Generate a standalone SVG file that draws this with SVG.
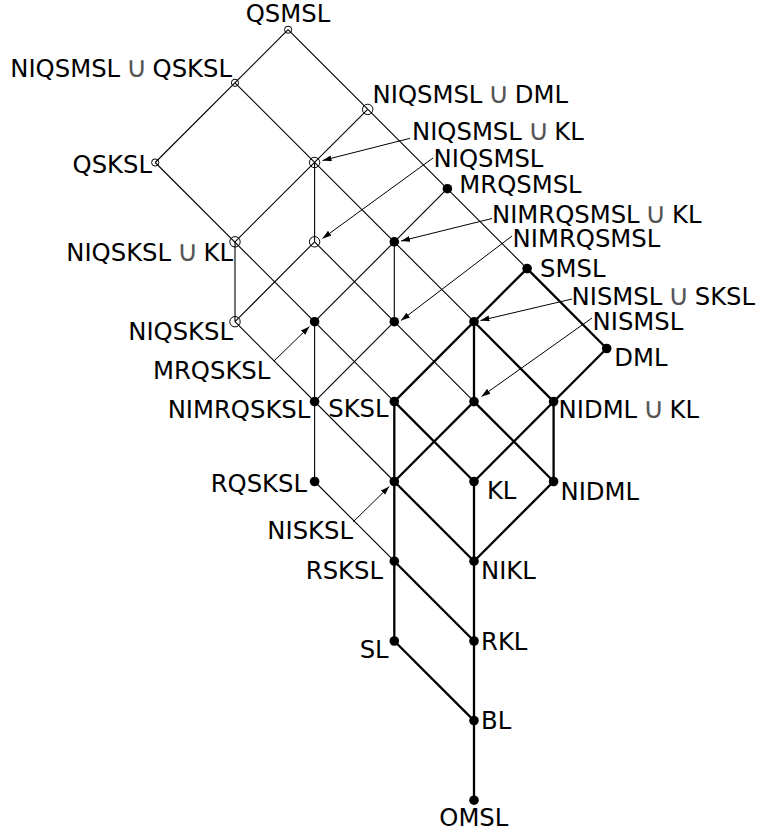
<svg xmlns="http://www.w3.org/2000/svg" width="757" height="837" viewBox="0 0 757 837">
<style>
text{font-family:"DejaVu Sans","Liberation Sans",sans-serif;font-size:24.3px;fill:#000}
.cup{fill:#555;font-size:29px;font-weight:200}
.e{stroke:#000;stroke-width:1.1;fill:none}
.t{stroke:#000;stroke-width:2.3;fill:none}
.a{stroke:#000;stroke-width:1;fill:none;marker-end:url(#ah)}
.o{fill:none;stroke:#000;stroke-width:1}
.f{fill:#000}
.end{text-anchor:end}
.mid{text-anchor:middle}
</style>
<defs>
<marker id="ah" markerUnits="userSpaceOnUse" markerWidth="10" markerHeight="7" refX="9" refY="3" orient="auto">
<path d="M0,0 L9,3 L0,6 z" fill="#000"/>
</marker>
</defs>
<rect width="757" height="837" fill="#fff"/>
<g id="connectors">
<line class="e" x1="288.1" y1="29.7" x2="527.1" y2="268.6"/>
<line class="e" x1="235" y1="82.8" x2="474" y2="321.7"/>
<line class="e" x1="155.2" y1="162.5" x2="394.3" y2="401.6"/>
<line class="e" x1="314.6" y1="241.8" x2="474" y2="401.6"/>
<line class="e" x1="235" y1="321.7" x2="394.3" y2="481.5"/>
<line class="e" x1="314.6" y1="481.5" x2="394.3" y2="561.2"/>
<line class="e" x1="288.1" y1="29.7" x2="155.2" y2="162.5"/>
<line class="e" x1="367.7" y1="109.4" x2="235" y2="241.8"/>
<line class="e" x1="447.4" y1="188.7" x2="314.6" y2="321.7"/>
<line class="e" x1="314.6" y1="241.8" x2="235" y2="321.7"/>
<line class="e" x1="394.3" y1="321.7" x2="314.6" y2="401.6"/>
<line class="e" x1="314.6" y1="162.5" x2="314.6" y2="241.8"/>
<line class="e" x1="394.3" y1="241.8" x2="394.3" y2="321.7"/>
<line class="e" x1="235" y1="241.8" x2="235" y2="321.7"/>
<line class="e" x1="314.6" y1="321.7" x2="314.6" y2="481.5"/>
<line class="t" x1="527.1" y1="268.6" x2="606.7" y2="348.5"/>
<line class="t" x1="474" y1="321.7" x2="553.6" y2="401.6"/>
<line class="t" x1="394.3" y1="401.6" x2="474" y2="481.5"/>
<line class="t" x1="474" y1="401.6" x2="553.6" y2="481.5"/>
<line class="t" x1="394.3" y1="481.5" x2="474" y2="561.2"/>
<line class="t" x1="394.3" y1="561.2" x2="474" y2="641"/>
<line class="t" x1="394.3" y1="641" x2="474" y2="720.6"/>
<line class="t" x1="527.1" y1="268.6" x2="394.3" y2="401.6"/>
<line class="t" x1="606.7" y1="348.5" x2="474" y2="481.5"/>
<line class="t" x1="474" y1="401.6" x2="394.3" y2="481.5"/>
<line class="t" x1="553.6" y1="481.5" x2="474" y2="561.2"/>
<line class="t" x1="474" y1="321.7" x2="474" y2="401.6"/>
<line class="t" x1="553.6" y1="401.6" x2="553.6" y2="481.5"/>
<line class="t" x1="394.3" y1="401.6" x2="394.3" y2="641"/>
<line class="t" x1="474" y1="481.5" x2="474" y2="800.2"/>
<line class="a" x1="410" y1="138.3" x2="322.5" y2="160.5"/>
<line class="a" x1="433" y1="158" x2="322.5" y2="238.5"/>
<line class="a" x1="492" y1="218.5" x2="401" y2="241"/>
<line class="a" x1="512" y1="236" x2="401" y2="320.5"/>
<line class="a" x1="572" y1="299" x2="480.5" y2="320.5"/>
<line class="a" x1="592" y1="318" x2="481.5" y2="396.5"/>
<line class="a" x1="274" y1="361" x2="309.5" y2="326.5"/>
<line class="a" x1="353.3" y1="521.7" x2="389.3" y2="486.5"/>
</g>
<g id="n-QSMSL"><circle class="o" cx="288.1" cy="29.7" r="3.6"/><text class="mid" x="288" y="22">QSMSL</text></g>
<g id="n-NIQSMSL-QSKSL"><circle class="o" cx="235" cy="82.8" r="3.6"/><text class="end" x="232" y="77.3">NIQSMSL <tspan class="cup" dx="-2">∪</tspan><tspan dx="-2"> QSKSL</tspan></text></g>
<g id="n-QSKSL"><circle class="o" cx="155.2" cy="162.5" r="3.6"/><text class="end" x="152" y="172.7">QSKSL</text></g>
<g id="n-NIQSMSL-DML"><circle class="o" cx="367.7" cy="109.4" r="5.2"/><text x="372.6" y="103.3">NIQSMSL <tspan class="cup" dx="-2">∪</tspan><tspan dx="-2"> DML</tspan></text></g>
<g id="n-NIQSMSL-KL"><circle class="o" cx="314.6" cy="162.5" r="5.2"/><text x="412" y="140">NIQSMSL <tspan class="cup" dx="-2">∪</tspan><tspan dx="-2"> KL</tspan></text></g>
<g id="n-MRQSMSL"><circle class="f" cx="447.4" cy="188.7" r="4.8"/><text x="459.3" y="192.7">MRQSMSL</text></g>
<g id="n-NIQSKSL-KL"><circle class="o" cx="235" cy="241.8" r="5.2"/><text class="end" x="233" y="260.7">NIQSKSL <tspan class="cup" dx="-2">∪</tspan><tspan dx="-2"> KL</tspan></text></g>
<g id="n-NIQSMSL"><circle class="o" cx="314.6" cy="241.8" r="5.2"/><text x="433.6" y="167.3">NIQSMSL</text></g>
<g id="n-NIMRQSMSL-KL"><circle class="f" cx="394.3" cy="241.8" r="4.8"/><text x="492" y="222.7">NIMRQSMSL <tspan class="cup" dx="-2">∪</tspan><tspan dx="-2"> KL</tspan></text></g>
<g id="n-SMSL"><circle class="f" cx="527.1" cy="268.6" r="4.8"/><text x="540.1" y="277">SMSL</text></g>
<g id="n-NIQSKSL"><circle class="o" cx="235" cy="321.7" r="5.2"/><text class="end" x="233" y="340">NIQSKSL</text></g>
<g id="n-MRQSKSL"><circle class="f" cx="314.6" cy="321.7" r="4.8"/><text class="end" x="270.3" y="379">MRQSKSL</text></g>
<g id="n-NIMRQSMSL"><circle class="f" cx="394.3" cy="321.7" r="4.8"/><text x="512.6" y="247.3">NIMRQSMSL</text></g>
<g id="n-NISMSL-SKSL"><circle class="f" cx="474" cy="321.7" r="4.8"/><text x="571.6" y="305">NISMSL <tspan class="cup" dx="-2">∪</tspan><tspan dx="-2"> SKSL</tspan></text></g>
<g id="n-DML"><circle class="f" cx="606.7" cy="348.5" r="4.8"/><text x="614.3" y="366">DML</text></g>
<g id="n-NIMRQSKSL"><circle class="f" cx="314.6" cy="401.6" r="4.8"/><text class="end" x="310.3" y="418.3">NIMRQSKSL</text></g>
<g id="n-SKSL"><circle class="f" cx="394.3" cy="401.6" r="4.8"/><text class="end" x="388.6" y="417.3">SKSL</text></g>
<g id="n-NISMSL"><circle class="f" cx="474" cy="401.6" r="4.8"/><text x="592.6" y="330">NISMSL</text></g>
<g id="n-NIDML-KL"><circle class="f" cx="553.6" cy="401.6" r="4.8"/><text x="558.6" y="418.3">NIDML <tspan class="cup" dx="-2">∪</tspan><tspan dx="-2"> KL</tspan></text></g>
<g id="n-RQSKSL"><circle class="f" cx="314.6" cy="481.5" r="4.8"/><text class="end" x="307" y="491.7">RQSKSL</text></g>
<g id="n-NISKSL"><circle class="f" cx="394.3" cy="481.5" r="4.8"/><text class="end" x="353" y="539.3">NISKSL</text></g>
<g id="n-KL"><circle class="f" cx="474" cy="481.5" r="4.8"/><text x="486.9" y="499">KL</text></g>
<g id="n-NIDML"><circle class="f" cx="553.6" cy="481.5" r="4.8"/><text x="560.5" y="500">NIDML</text></g>
<g id="n-RSKSL"><circle class="f" cx="394.3" cy="561.2" r="4.8"/><text class="end" x="383" y="579">RSKSL</text></g>
<g id="n-NIKL"><circle class="f" cx="474" cy="561.2" r="4.8"/><text x="481" y="579.3">NIKL</text></g>
<g id="n-SL"><circle class="f" cx="394.3" cy="641" r="4.8"/><text class="end" x="388.6" y="658.3">SL</text></g>
<g id="n-RKL"><circle class="f" cx="474" cy="641" r="4.8"/><text x="481" y="650">RKL</text></g>
<g id="n-BL"><circle class="f" cx="474" cy="720.6" r="4.8"/><text x="481" y="729.3">BL</text></g>
<g id="n-OMSL"><circle class="f" cx="474" cy="800.2" r="4.8"/><text class="mid" x="473.8" y="826">OMSL</text></g>
</svg>
